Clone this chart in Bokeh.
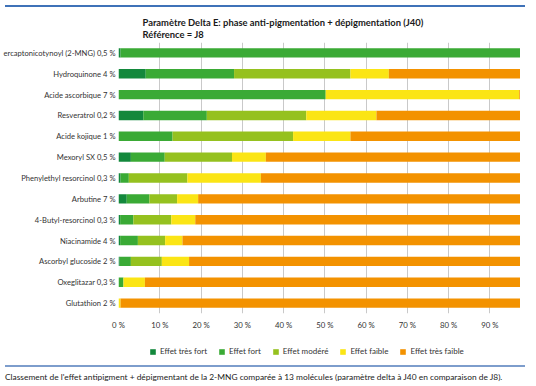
from bokeh.plotting import figure
from bokeh.models import Range1d, FactorRange, Legend, LegendItem, FixedTicker, PrintfTickFormatter, Div
from bokeh.layouts import column
from bokeh.embed import file_html
from bokeh.resources import INLINE

categories = ["ercaptonicotynoyl (2-MNG) 0,5 %", "Hydroquinone 4 %", "Acide ascorbique 7 %",
              "Resveratrol 0,2 %", "Acide kojique 1 %", "Mexoryl SX 0,5 %",
              "Phenylethyl resorcinol 0,3 %", "Arbutine 7 %", "4-Butyl-resorcinol 0,3 %",
              "Niacinamide 4 %", "Ascorbyl glucoside 2 %", "Oxeglitazar 0,3 %", "Glutathion 2 %"]

tres_fort = [0.5, 6.6, 0, 6.0, 0, 3.0, 0.5, 2.0, 0.4, 0.4, 0.3, 0, 0]
fort = [97.4, 21.4, 50.2, 15.4, 13.1, 8.2, 2.0, 5.5, 3.2, 4.3, 2.7, 1.2, 0]
modere = [2.1, 28.2, 0, 24.1, 29.2, 16.3, 14.2, 6.7, 9.2, 6.6, 7.5, 0, 0]
faible = [0, 9.3, 46.9, 17.0, 13.9, 8.2, 17.8, 5.1, 5.8, 4.2, 6.6, 5.2, 0.5]
tres_faible = [0, 34.5, 2.9, 37.5, 43.8, 64.3, 65.5, 80.7, 81.4, 84.5, 82.9, 93.6, 99.5]

series_names = ["Effet très fort", "Effet fort", "Effet modéré", "Effet faible", "Effet très faible"]
series_keys = ["tres_fort", "fort", "modere", "faible", "tres_faible"]
colors = ["#13883c", "#3aaa35", "#95c11f", "#fbe515", "#f39200"]
x_ticks = [0, 10, 20, 30, 40, 50, 60, 70, 80, 90, 100]

title_text = "Paramètre Delta E: phase anti-pigmentation + dépigmentation (J40)\nRéférence = J8"
caption_text = "Classement de l'effet antipigment + dépigmentant de la 2-MNG comparée à 13 molécules (paramètre delta à J40 en comparaison de J8)."

FONT = "Lato"

data = dict(cat=categories, tres_fort=tres_fort, fort=fort, modere=modere,
            faible=faible, tres_faible=tres_faible)

# ---- main chart ----
p = figure(width=520, height=320, output_backend="svg", toolbar_location=None,
           y_range=FactorRange(factors=list(reversed(categories))), x_range=Range1d(0, 97.4),
           min_border_left=111, min_border_right=0, min_border_top=30, min_border_bottom=16)

renderers = p.hbar_stack(series_keys, y="cat", height=0.45, color=colors, source=data,
                         line_width=0)

p.title.text = title_text
p.title.text_font = FONT
p.title.text_font_size = "9.4px"
p.title.text_font_style = "bold"
p.title.text_color = "#1a1a1a"
p.title.text_line_height = 1.1
p.title.offset = 24
p.title.standoff = 5

p.xaxis.ticker = FixedTicker(ticks=x_ticks)
p.xaxis.formatter = PrintfTickFormatter(format="%d %%")
p.xaxis.axis_line_color = None
p.xaxis.major_tick_line_color = None
p.xaxis.minor_tick_line_color = None
p.xaxis.major_tick_out = 0
p.xaxis.major_tick_in = 0
p.xaxis.minor_tick_out = 0
p.xaxis.major_label_text_font = FONT
p.xaxis.major_label_text_font_size = "7.8px"
p.xaxis.major_label_text_color = "#333333"
p.xaxis.major_label_standoff = 6

p.yaxis.axis_line_color = None
p.yaxis.major_tick_line_color = None
p.yaxis.minor_tick_line_color = None
p.yaxis.major_tick_out = 0
p.yaxis.major_tick_in = 0
p.yaxis.minor_tick_out = 0
p.yaxis.major_label_text_font = FONT
p.yaxis.major_label_text_font_size = "7.6px"
p.yaxis.major_label_text_color = "#333333"
p.yaxis.major_label_standoff = 3

p.ygrid.grid_line_color = None
p.xgrid.ticker = FixedTicker(ticks=x_ticks)
p.xgrid.grid_line_color = "#c9c9c9"
p.xgrid.grid_line_width = 1
p.outline_line_color = None

# ---- legend strip: same stacked series, kept out of view, only its legend shows ----
p2 = figure(width=520, height=28, output_backend="svg", toolbar_location=None,
            x_range=Range1d(-2, -1), y_range=FactorRange(factors=list(reversed(categories))),
            x_axis_location=None, y_axis_location=None,
            min_border_left=0, min_border_right=0, min_border_top=0, min_border_bottom=0)
p2.grid.grid_line_color = None
p2.outline_line_color = None
swatches = p2.hbar_stack(series_keys, y="cat", height=0.45, color=colors, source=data,
                         line_width=0)

items = [LegendItem(label=n, renderers=[r]) for n, r in zip(series_names, swatches)]
legend = Legend(items=items, orientation="horizontal", location=(31, 4),
                border_line_color=None, background_fill_alpha=0,
                label_text_font=FONT, label_text_font_size="8px", label_text_color="#333333",
                glyph_width=7, glyph_height=7, spacing=11, label_standoff=4,
                padding=2, margin=0, label_height=8)
p2.add_layout(legend, "center")

top_line = Div(text="", width=520, height=2, styles={"background-color": "#3f72b8"})
caption = Div(text=caption_text, width=520, height=18,
              styles={"border-top": "2px solid #7d9dcc", "font-family": FONT,
                      "font-size": "8.4px", "color": "#222222", "padding-top": "4px",
                      "white-space": "nowrap", "box-sizing": "border-box"})

layout = column(top_line, p, p2, caption, spacing=0)

open("out.html", "w").write(file_html(layout, INLINE))
